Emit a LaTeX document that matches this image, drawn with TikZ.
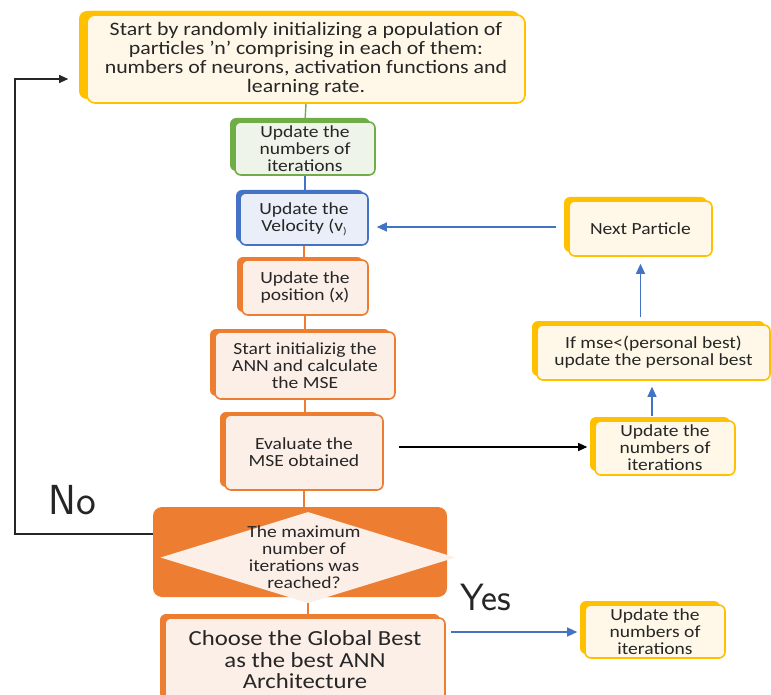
\documentclass[tikz,border=0pt]{standalone}
\usepackage{fontspec}
\setmainfont{Carlito}[FakeStretch=1.15]
\usetikzlibrary{shapes.geometric,shadows,arrows.meta}

\definecolor{gold}{HTML}{FFC000}
\definecolor{goldfill}{HTML}{FFF8E8}
\definecolor{leaf}{HTML}{70AD47}
\definecolor{leaffill}{HTML}{EEF4E9}
\definecolor{sky}{HTML}{4472C4}
\definecolor{skyfill}{HTML}{E9EEF8}
\definecolor{amber}{HTML}{ED7D31}
\definecolor{amberfill}{HTML}{FCEFE8}
\definecolor{ink}{HTML}{262626}

\begin{document}
\begin{tikzpicture}[x=1pt,y=-1pt,
  card/.style={rectangle, rounded corners=6pt, line width=1.6pt, inner sep=0pt,
    align=center, text=ink, font=\fontsize{17}{17}\selectfont},
  goldcard/.style={card, draw=gold, fill=goldfill,
    general shadow={fill=gold, shadow xshift=-5pt, shadow yshift=4pt}},
  leafcard/.style={card, draw=leaf, fill=leaffill,
    general shadow={fill=leaf, shadow xshift=-5pt, shadow yshift=4pt}},
  skycard/.style={card, draw=sky, fill=skyfill,
    general shadow={fill=sky, shadow xshift=-4pt, shadow yshift=3pt}},
  ambercard/.style={card, draw=amber, fill=amberfill,
    general shadow={fill=amber, shadow xshift=-5pt, shadow yshift=3pt}},
  link/.style={line width=1.4pt},
  skyarrow/.style={draw=sky, line width=1.1pt, -{Triangle[length=10pt,width=9pt]}},
  inkarrow/.style={draw=black, line width=1.1pt, -{Triangle[length=9pt,width=8pt]}},
  hand/.style={text=ink, font=\sffamily\fontsize{42}{42}\selectfont}
]
\useasboundingbox (0,0) rectangle (771,695);
\clip (0,0) rectangle (771,695);

% main column
\node[goldcard, rounded corners=8pt, minimum width=438pt, minimum height=88pt,
  general shadow={fill=gold, shadow xshift=-8pt, shadow yshift=4pt},
  font=\fontsize{19}{19}\selectfont] (start) at (306,59)
  {Start by randomly initializing a population of\\particles 'n' comprising in each of them:\\numbers of neurons, activation functions and\\learning rate.};
\node[leafcard, minimum width=140pt, minimum height=53pt] (iterA) at (305,148.5)
  {Update the\\numbers of\\iterations};
\node[skycard, minimum width=128pt, minimum height=52pt] (vel) at (304,219)
  {Update the\\Velocity (v\raisebox{-0.35ex}{\fontsize{10}{10}\selectfont)}};
\node[ambercard, minimum width=126pt, minimum height=55pt] (pos) at (305,287.5)
  {Update the\\position (x)};
\node[ambercard, minimum width=180pt, minimum height=67pt] (ann) at (305,365.5)
  {Start initializig the\\ANN and calculate\\the MSE};
\node[ambercard, minimum width=158pt, minimum height=75pt] (eval) at (304,452.5)
  {Evaluate the\\MSE obtained};

% decision
\node[rectangle, rounded corners=9pt, fill=amber, minimum width=294pt,
  minimum height=90pt, inner sep=0pt] (decbox) at (300,552) {};
\node[diamond, fill=amberfill, minimum width=295pt, minimum height=91pt,
  inner sep=0pt] (dec) at (308,557.5) {};
\node[card] (dectext) at (304,557)
  {The maximum\\number of\\iterations was\\reached?};

\node[ambercard, minimum width=280pt, minimum height=84pt,
  general shadow={fill=amber, shadow xshift=-5pt, shadow yshift=4pt},
  font=\fontsize{21.5}{21.5}\selectfont] (best) at (305,660)
  {Choose the Global Best\\as the best ANN\\Architecture};

% right column
\node[goldcard, minimum width=143pt, minimum height=55pt] (next) at (640.5,228.5)
  {Next Particle};
\node[goldcard, minimum width=233pt, minimum height=55pt] (pbest) at (653.5,352.5)
  {If mse<(personal best)\\update the personal best};
\node[goldcard, minimum width=140pt, minimum height=54pt] (iterB) at (665,448)
  {Update the\\numbers of\\iterations};
\node[goldcard, minimum width=140pt, minimum height=53pt] (iterC) at (655,631.5)
  {Update the\\numbers of\\iterations};

% links along the main column
\draw[link, leaf] (start.south) -- (iterA.north);
\draw[link, sky] (iterA.south) -- (iterA.south |- vel.north);
\draw[link, amber] (vel.south) -- (vel.south |- pos.north);
\draw[link, amber] (pos.south) -- (pos.south |- ann.north);
\draw[link, amber] (ann.south) -- (ann.south |- eval.north);
\draw[link, amber] (eval.south) -- (eval.south |- decbox.north);
\draw[link, amber] (dec.south) -- (dec.south |- best.north);

% arrows
\draw[skyarrow, shorten <=12pt, shorten >=8pt]
  ([yshift=1.5pt]next.west) -- ([yshift=1.5pt]vel.east |- next.west);
\draw[skyarrow, shorten <=7pt, shorten >=7pt]
  (next.south |- pbest.north) -- (next.south);
\draw[skyarrow, shorten <=4pt, shorten >=6pt]
  ([xshift=-13pt]iterB.north) -- ([xshift=-13pt]iterB.north |- pbest.south);
\draw[inkarrow, shorten <=15pt, shorten >=7pt]
  ([yshift=1pt]iterB.west -| eval.east) -- ([yshift=1pt]iterB.west);
\draw[skyarrow, shorten <=5pt, shorten >=7pt]
  ([yshift=28pt]best.east) -- ([yshift=28pt]best.east -| iterC.west);

% loop back when the limit is not reached
\coordinate (loopturn) at (15,534);
\draw[inkarrow, draw=ink]
  ([yshift=18pt]decbox.west) -- (loopturn) |- ([xshift=-18pt,yshift=-20pt]start.west);

% answers
\node[hand] (no) at (72,500) {No};
\node[hand, font=\sffamily\fontsize{38}{38}\selectfont] (yes) at (486,597) {Yes};
\end{tikzpicture}
\end{document}
